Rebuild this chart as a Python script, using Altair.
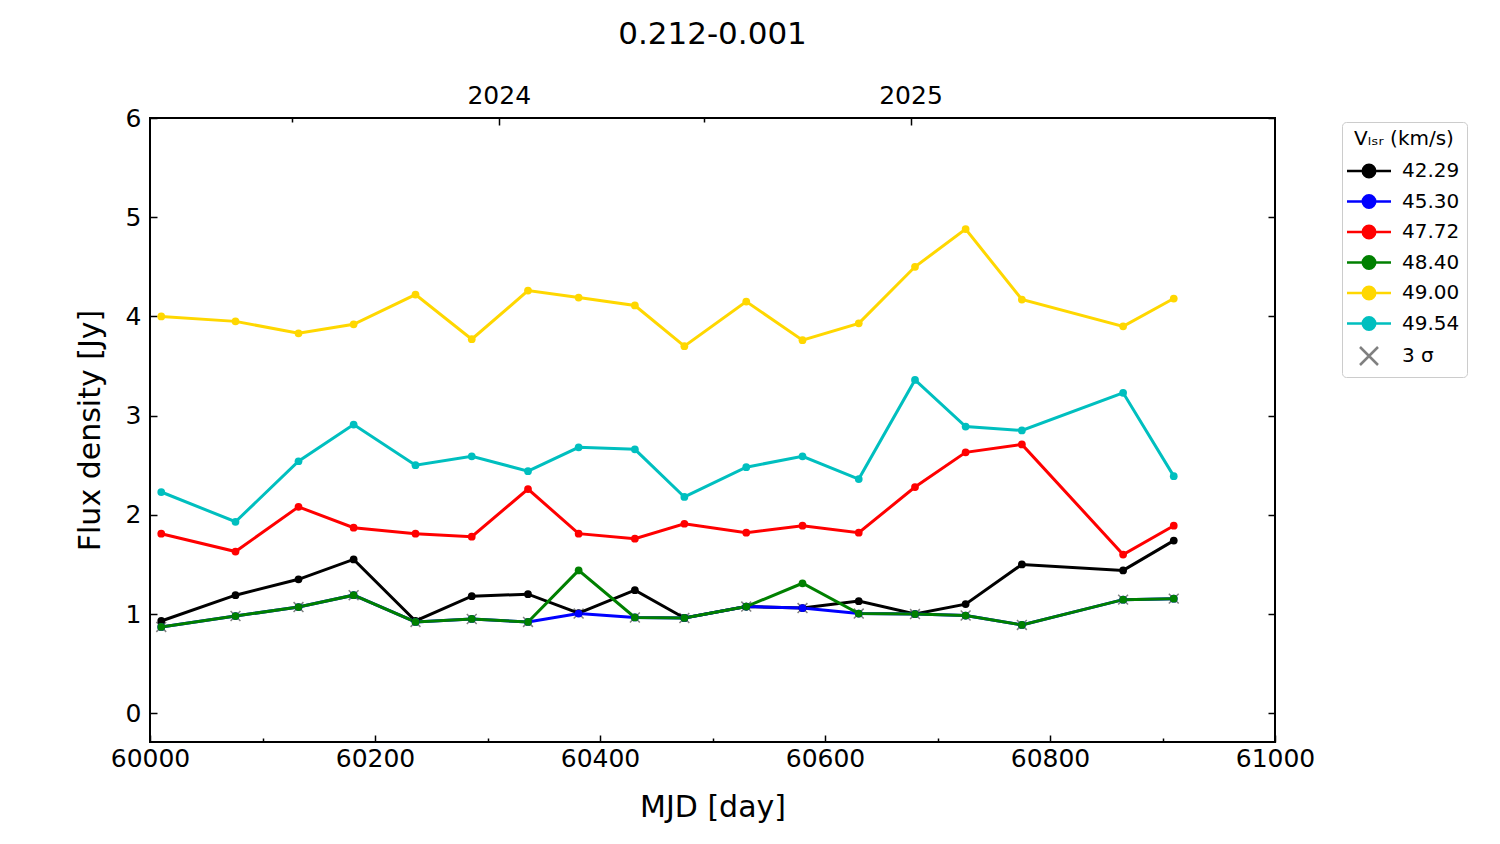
import altair as alt
import pandas as pd

# ---------------- data ----------------
mjd = [60010, 60076, 60132, 60181, 60236, 60286, 60336, 60381, 60431,
       60475, 60530, 60580, 60630, 60680, 60725, 60775, 60865, 60910]

series_labels = ["42.29", "45.30", "47.72", "48.40", "49.00", "49.54"]
series_colors = ["#000000", "#0000ff", "#ff0000", "#008000", "#ffd700", "#00bfbf"]
sigma_label = "3 σ"
sigma_color = "#808080"

flux_4229 = [0.93, 1.19, 1.35, 1.55, 0.93, 1.18, 1.20, 1.01, 1.24,
             0.96, 1.075, 1.06, 1.13, 1.00, 1.10, 1.50, 1.44, 1.74]
flux_4530 = [0.87, 0.98, 1.07, 1.19, 0.92, 0.95, 0.92, 1.005, 0.965,
             0.96, 1.075, 1.06, 1.005, 1.00, 0.985, 0.89, 1.145, 1.155]
flux_4772 = [1.81, 1.63, 2.08, 1.87, 1.81, 1.78, 2.26, 1.81, 1.76,
             1.91, 1.82, 1.89, 1.82, 2.28, 2.63, 2.71, 1.60, 1.89]
flux_4840 = [0.87, 0.98, 1.07, 1.19, 0.92, 0.95, 0.92, 1.44, 0.965,
             0.96, 1.075, 1.31, 1.005, 1.00, 0.985, 0.89, 1.145, 1.155]
flux_4900 = [4.00, 3.95, 3.83, 3.92, 4.22, 3.77, 4.26, 4.19, 4.11,
             3.70, 4.15, 3.76, 3.93, 4.50, 4.88, 4.17, 3.90, 4.18]
flux_4954 = [2.23, 1.93, 2.54, 2.91, 2.50, 2.59, 2.44, 2.68, 2.66,
             2.18, 2.48, 2.59, 2.36, 3.36, 2.89, 2.85, 3.23, 2.39]
sigma3 = [0.87, 0.98, 1.07, 1.19, 0.92, 0.95, 0.92, 1.005, 0.965,
          0.96, 1.075, 1.06, 1.005, 1.00, 0.985, 0.89, 1.145, 1.155]

x_major = [60000, 60200, 60400, 60600, 60800, 61000]
x_minor = [60100, 60300, 60500, 60700, 60900]
year_ticks = [60310, 60676]        # 2024-01-01, 2025-01-01 in MJD
year_minor = [60126, 60492]        # mid-year ticks
y_ticks = [0, 1, 2, 3, 4, 5, 6]

# ---------------- tables ----------------
all_flux = [flux_4229, flux_4530, flux_4772, flux_4840, flux_4900, flux_4954]
rows = []
for lab, fl in zip(series_labels, all_flux):
    for m, f in zip(mjd, fl):
        rows.append({"mjd": m, "flux": f, "label": lab})
df_series = pd.DataFrame(rows)
df_sigma = pd.DataFrame({"mjd": mjd, "flux": sigma3, "label": sigma_label})

FONT = "DejaVu Sans"
# symbol paths (unit = 5 px at legend size 100)
LEG_LINE = "M-4.4,0L4.4,0M-1.25,0A1.25,1.25,0,1,1,1.25,0A1.25,1.25,0,1,1,-1.25,0Z"
LEG_X = "M-1.8,-1.8L1.8,1.8M-1.8,1.8L1.8,-1.8"

all_labels = series_labels + [sigma_label]
all_colors = series_colors + [sigma_color]

xscale = alt.Scale(domain=[60000, 61000], nice=False, zero=False)
yscale = alt.Scale(domain=[-0.29, 6], nice=False, zero=False)

common_axis = dict(domain=False, grid=False, tickColor="black", tickWidth=1.5,
                   labelColor="black", labelFont=FONT, labelFontSize=25,
                   titleFont=FONT, titleColor="black", titleFontWeight="normal",
                   labelFlush=False)

ax_bottom = alt.Axis(orient="bottom", values=x_major, format="d", tickSize=7, offset=-7,
                     labelPadding=4, title="MJD [day]", titleFontSize=30, titlePadding=21,
                     **common_axis)
ax_bottom_minor = alt.Axis(orient="bottom", values=x_minor, tickSize=4, offset=-4,
                           labels=False, title=None, **common_axis)
ax_top = alt.Axis(orient="top", values=year_ticks, tickSize=7, offset=-7, labelPadding=10,
                  labelExpr="utcFormat((datum.value - 40587) * 86400000, '%Y')",
                  title=None, **common_axis)
ax_top_minor = alt.Axis(orient="top", values=year_minor, tickSize=4, offset=-4,
                        labels=False, title=None, **common_axis)
ax_left = alt.Axis(orient="left", values=y_ticks, format="d", tickSize=7, offset=-7,
                   labelPadding=9, title="Flux density [Jy]", titleFontSize=30,
                   titlePadding=20, **common_axis)
ax_right = alt.Axis(orient="right", values=y_ticks, tickSize=7, offset=-7,
                    labels=False, title=None, **common_axis)

legend = alt.Legend(
    title="Vₗₛᵣ (km/s)", orient="none", legendX=1192, legendY=4,
    titleFont=FONT, titleFontSize=20, titleFontWeight="normal", titleColor="black",
    titleAnchor="middle", titlePadding=12,
    labelFont=FONT, labelFontSize=20, labelColor="black", labelOffset=23,
    symbolSize=100, symbolStrokeWidth=2.5, symbolOffset=10, symbolOpacity=1,
    rowPadding=6.5, padding=7, fillColor="white", strokeColor="#cccccc",
    cornerRadius=4,
)

color_nolegend = alt.Color("label:N", scale=alt.Scale(domain=all_labels, range=all_colors),
                           legend=None)

# 3-sigma crosses; this layer also carries the legend (fill/stroke/shape by label)
sigma_layer = alt.Chart(df_sigma).mark_point(
    size=30, strokeWidth=1.5, filled=False, opacity=1
).encode(
    x=alt.X("mjd:Q", scale=xscale, axis=ax_top),
    y=alt.Y("flux:Q", scale=yscale, axis=ax_right),
    fill=alt.Fill("label:N", scale=alt.Scale(domain=all_labels, range=all_colors), legend=legend),
    stroke=alt.Stroke("label:N", scale=alt.Scale(domain=all_labels, range=all_colors), legend=legend),
    shape=alt.Shape("label:N", scale=alt.Scale(domain=all_labels, range=[LEG_LINE] * 6 + [LEG_X]),
                    legend=legend),
)

line_layer = alt.Chart(df_series).mark_line(strokeWidth=3).encode(
    x=alt.X("mjd:Q", scale=xscale, axis=ax_bottom),
    y=alt.Y("flux:Q", scale=yscale, axis=ax_left),
    color=color_nolegend,
)

point_layer = alt.Chart(df_series).mark_point(
    filled=True, size=60, opacity=1, shape="circle"
).encode(
    x=alt.X("mjd:Q", scale=xscale, axis=ax_bottom_minor),
    y=alt.Y("flux:Q", scale=yscale, axis=None),
    color=color_nolegend,
)

# carries the top minor ticks only (invisible marks)
minor_layer = alt.Chart(df_sigma).mark_point(opacity=0).encode(
    x=alt.X("mjd:Q", scale=xscale, axis=ax_top_minor),
    y=alt.Y("flux:Q", scale=yscale, axis=None),
)

chart = alt.layer(sigma_layer, line_layer, point_layer, minor_layer).resolve_axis(
    x="independent", y="independent"
).properties(
    width=1125, height=624,
    autosize=alt.AutoSizeParams(type="none"),
    padding={"left": 142, "top": 110, "right": 215, "bottom": 94},
    title=alt.TitleParams("0.212-0.001", font=FONT, fontSize=31, fontWeight="normal",
                          color="black", anchor="middle", frame="group", offset=32),
).configure(font=FONT).configure_view(stroke="black", strokeWidth=2)

chart.save("out.html", embed_options={"renderer": "svg", "actions": False})
